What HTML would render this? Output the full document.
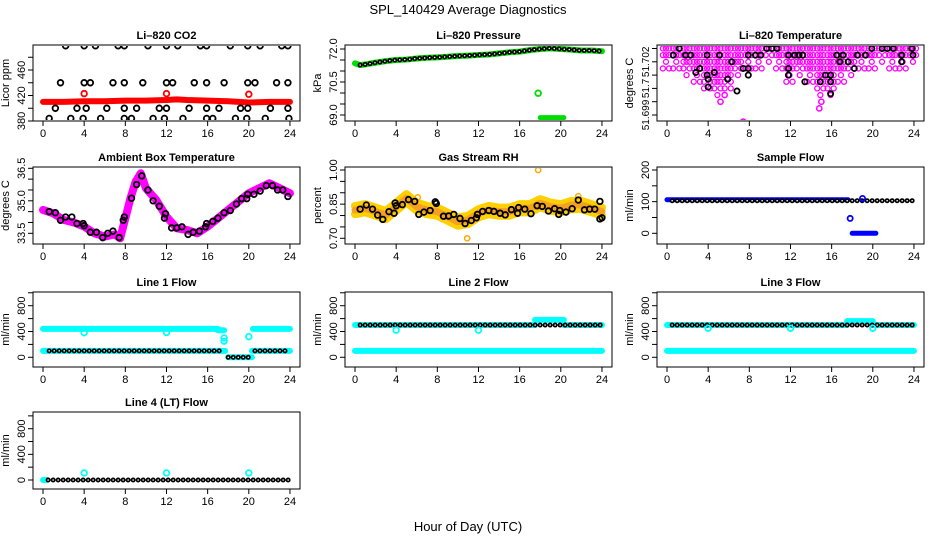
<!DOCTYPE html>
<html><head><meta charset="utf-8"><style>
html,body{margin:0;padding:0;background:#fff}
svg text{font-family:"Liberation Sans",Arial,sans-serif}
</style></head><body>
<svg id="c" width="936" height="540" viewBox="0 0 936 540" xmlns="http://www.w3.org/2000/svg">
<text x="468" y="14" font-size="13" text-anchor="middle">SPL_140429  Average Diagnostics</text>
<text x="468" y="531" font-size="13" text-anchor="middle">Hour of Day (UTC)</text>
</svg>
<script>
// ---------- data ----------
const xTicks=[0,4,8,12,16,20,24];
// CO2
const co2RedH=[0,2,4,6,8,10,12,13,14,16,18,20,22,24];
const co2RedV=[410,410,411,411,412,412,413,414,413,412,411,409,410,410];
const co2RedOutH=[4,12,20];
const co2RedOutV=[423,423,422];
const co2BlkH=[2.2,4.0,5.1,7.3,7.9,10.2,12.0,13.1,15.3,15.9,18.2,19.9,21.1,23.2,23.8,
 1.7,4.0,4.6,6.8,7.9,9.7,12.0,12.6,14.7,15.9,17.6,19.9,20.6,22.7,23.8,
 1.2,3.3,4.2,6.2,7.9,9.1,11.3,12.0,14.2,15.9,17.1,19.2,19.9,22.1,23.8,
 0.6,2.7,3.9,5.6,7.9,8.6,10.7,11.8,13.6,15.9,16.5,18.7,19.8,21.6,23.9];
const co2BlkV=[498,498,498,498,498,498,498,498,498,498,498,498,498,498,498,
 440,440,440,440,440,440,440,440,440,440,440,440,440,440,440,
 400,400,400,400,400,400,400,400,400,400,400,400,400,400,400,
 384,384,384,384,384,384,384,384,384,384,384,384,384,384,384];
// Pressure
const presH=[0,0.5,1,2,3,4,5,6,7,8,9,10,11,12,13,14,15,16,17,18,19,20,21,22,23,24];
const presV=[71.35,71.27,71.3,71.38,71.45,71.5,71.52,71.57,71.6,71.62,71.65,71.68,71.7,71.73,71.75,71.8,71.85,71.88,71.95,72.0,72.03,72.0,71.97,71.93,71.93,71.9];
const presOutH=[17.8,18.0,18.5,19.0,19.5,20.0,20.3];
const presOutV=[69.99,68.88,68.88,68.88,68.88,68.88,68.88];
// Li-820 temperature
const tempH=[0,1,2,3,4,5,6,7,8,9,10,11,12,13,14,15,16,17,18,19,20,21,22,23,24];
const tempLow=[51.70075,51.70075,51.7005,51.70025,51.7,51.69975,51.7,51.7005,51.70075,51.70075,51.701,51.70075,51.70025,51.7005,51.70025,51.69975,51.69975,51.70025,51.7005,51.70075,51.70075,51.701,51.70075,51.70075,51.701];
const tempMagOutH=[7.4,14.8,5.2,5.6,15.0];
const tempMagOutV=[51.69875,51.69925,51.6995,51.69975,51.6995];
const tempBlkH=[1.2,9.7,10.2,10.7,19.9,20.9,21.4,22.0,23.8,0.6,1.8,2.3,3.9,5.1,7.9,8.6,9.1,11.8,12.4,12.8,13.2,16.5,17.1,18.5,19.3,22.8,23.9,6.3,16.8,17.6,22.8,3.2,7.4,7.9,11.8,18.2,2.8,4.6,3.9,7.9,11.8,15.4,15.9,4.0,5.9,13.4,14.9,15.9,4.0,6.8,15.9];
const tempBlkV=[51.7015,51.7015,51.7015,51.7015,51.7015,51.7015,51.7015,51.7015,51.7015,51.70125,51.70125,51.70125,51.70125,51.70125,51.70125,51.70125,51.70125,51.70125,51.70125,51.70125,51.70125,51.70125,51.70125,51.70125,51.70125,51.70125,51.70125,51.701,51.701,51.701,51.701,51.70075,51.70075,51.70075,51.70075,51.70075,51.7006,51.7006,51.7005,51.7005,51.7005,51.7005,51.7005,51.70035,51.70035,51.70025,51.70025,51.70025,51.70005,51.6999,51.6998];
// Ambient box temperature
const ambH=[0,1,2,3,4,5,6,7,7.5,8,8.5,9,9.5,10,11,12,13,14,15,16,17,18,19,20,21,22,23,24];
const ambV=[34.58,34.42,34.12,34.0,33.81,33.5,33.35,33.45,33.27,34.19,35.12,35.88,36.27,35.58,35.04,34.27,33.73,33.65,33.5,33.81,34.19,34.58,34.96,35.35,35.58,35.81,35.58,35.35];
const ambBlkH=[0.6,1.2,1.7,2.2,2.8,3.3,3.9,4.0,4.6,5.2,5.8,6.3,6.8,7.4,7.8,7.9,8.6,9.1,9.6,10.2,10.7,11.3,11.8,11.9,12.5,13.0,13.5,14.1,14.6,15.2,15.8,15.9,16.5,17.0,17.6,18.2,18.8,19.3,19.8,19.9,20.5,21.1,21.7,22.3,22.8,23.3,23.8];
const ambBlkV=[34.5,34.45,34.1,34.25,34.25,33.95,33.95,33.85,33.55,33.55,33.3,33.5,33.6,33.3,34.1,34.25,35.12,35.75,36.15,35.5,35.0,34.75,34.2,34.4,33.75,33.75,33.8,33.45,33.55,33.6,33.8,33.95,34.05,34.2,34.45,34.55,34.85,35.1,35.1,35.3,35.3,35.45,35.7,35.7,35.5,35.5,35.2];
// Gas stream RH
const rhH=[0,1,2,3,4,5,6,7,8,9,10,11,12,13,14,15,16,17,18,19,20,21,22,23,24];
const rhV=[0.824,0.832,0.817,0.802,0.839,0.876,0.839,0.824,0.817,0.795,0.773,0.781,0.81,0.824,0.817,0.817,0.832,0.832,0.854,0.839,0.832,0.846,0.846,0.832,0.817];
const rhOutH=[17.8,10.9,21.7,6.1];
const rhOutV=[1.0,0.70,0.885,0.88];
const rhBlkH=[0.5,1.1,1.7,2.2,2.7,3.3,3.8,3.9,4.0,4.6,5.2,5.8,6.2,6.7,7.3,7.8,7.9,8.6,9.1,9.6,10.2,10.7,11.3,11.8,11.9,12.4,13.0,13.5,14.1,14.6,15.2,15.8,15.9,16.5,17.1,17.7,18.2,18.8,19.4,19.8,19.9,20.5,21.1,21.7,22.3,22.8,23.3,23.8,23.8,24.0];
const rhBlkV=[0.828,0.846,0.828,0.802,0.783,0.817,0.81,0.855,0.843,0.848,0.87,0.862,0.805,0.815,0.822,0.86,0.853,0.797,0.798,0.805,0.787,0.765,0.778,0.79,0.805,0.818,0.822,0.818,0.81,0.803,0.826,0.81,0.835,0.828,0.808,0.843,0.84,0.82,0.83,0.805,0.822,0.815,0.83,0.868,0.825,0.828,0.828,0.785,0.862,0.79];
// Sample flow
const sfBlueSeg=[[0,17.6,106],[18,20.3,0]];
const sfBlkSeg=[[0.5,24,103]];
const sfOutH=[17.8,19.0];
const sfOutV=[47,110];
// Line flows: segments [startHour,endHour,value]
const l1CyanSeg=[[0,17.0,440],[17.0,17.6,420],[18,20.3,0],[20.4,24,440],[0,17.7,100],[20.3,24,100]];
const l1BlkSeg=[[0.6,17.5,100],[18.0,20.0,0],[20.6,24,100]];
const l1OutH=[4,12,20,17.6,17.6];
const l1OutV=[380,385,320,250,300];
const l2CyanSeg=[[0,17.5,500],[17.5,20.3,580],[20.3,24,500],[0,24,100]];
const l2BlkSeg=[[0.5,24,500]];
const l2OutH=[4,12];
const l2OutV=[420,420];
const l3CyanSeg=[[0,17.5,500],[17.5,20,560],[20,24,500],[0,24,100]];
const l3BlkSeg=[[0.5,24,500]];
const l3OutH=[4,12,20];
const l3OutV=[450,450,450];
const l4CyanSeg=[[0,0.4,0]];
const l4BlkSeg=[[0.5,24,0]];
const l4OutH=[4,12,20];
const l4OutV=[110,110,110];

// ---------- helpers ----------
const svg=document.getElementById('c');
const NS='http://www.w3.org/2000/svg';
function mk(tag,attrs,parent){const e=document.createElementNS(NS,tag);for(const k in attrs)e.setAttribute(k,attrs[k]);(parent||svg).appendChild(e);return e;}
const COLS=[33,345,657], ROWT=[45,167,292,412], ROWB=[121,244,367,489], BW=267;

function panel(name,title,ylab,col,row,cal,ticks,labVals,labTxt,fs){
  const L=COLS[col],T=ROWT[row],B=ROWB[row];
  const g=mk('g',{});
  
  
  const x=h=>L+10+h*10.29;
  const k=(cal[3]-cal[1])/(cal[2]-cal[0]);
  const y=v=>cal[1]+(v-cal[0])*k;
  const box=mk('rect',{x:L,y:T,width:BW,height:B-T,fill:'none',stroke:'#000','stroke-width':1},g);
  
  
  const t=mk('text',{x:L+BW/2,y:T-6,'font-size':11,'font-weight':'bold','text-anchor':'middle'},g);
  t.textContent=title;
  
  
  const yl=mk('text',{transform:`translate(${L-24},${(T+B)/2}) rotate(-90)`,'font-size':11,'text-anchor':'middle'},g);
  yl.textContent=ylab;
  
  
  xTicks.forEach(h=>{
    mk('line',{x1:x(h),x2:x(h),y1:B,y2:B+5,stroke:'#000'},g);
    const tx=mk('text',{x:x(h),y:B+16,'font-size':11,'text-anchor':'middle'},g);
    tx.textContent=h;
    
    
  });
  ticks.forEach(v=>mk('line',{x1:L-5,x2:L,y1:y(v),y2:y(v),stroke:'#000'},g));
  labVals.forEach((v,i)=>{
    const tl=mk('text',{transform:`translate(${L-8},${y(v)}) rotate(-90)`,'font-size':fs||11,'text-anchor':'middle'},g);
    tl.textContent=labTxt[i];
    
    
  });
  const clipId='clip'+name;
  const cp=mk('clipPath',{id:clipId},g);mk('rect',{x:L+1,y:T+1,width:BW-2,height:B-T-2},cp);
  const plot=mk('g',{'clip-path':`url(#${clipId})`},g);
  
  
  return {x,y,g:plot};
}
function circ(p,h,v,color,r,sw,nm){
  const c=mk('circle',{cx:p.x(h),cy:p.y(v),r:r||2.6,fill:'none',stroke:color,'stroke-width':sw||1.6},p.g);
  
  
  return c;
}
function band(p,H,V,color,w,nm){
  const pts=H.map((h,i)=>p.x(h)+','+p.y(V[i])).join(' ');
  const l=mk('polyline',{points:pts,fill:'none',stroke:color,'stroke-width':w,'stroke-linejoin':'round','stroke-linecap':'round'},p.g);
  
  
  return l;
}
function dots(p,H,V,nm){
  const pts=H.map((h,i)=>p.x(h)+','+p.y(V[i])).join(' ');
  const l=mk('polyline',{points:pts,fill:'none',stroke:'#000','stroke-width':5,'stroke-dasharray':'0 5','stroke-linecap':'round'},p.g);
  
  
  const l2=mk('polyline',{points:pts,fill:'none',stroke:'#fff','stroke-width':1.6,'stroke-dasharray':'0 5','stroke-linecap':'round'},p.g);
  
  
}
function segs(p,S,color,w,nm){S.forEach(s=>band(p,[s[0],s[1]],[s[2],s[2]],color,w,nm));}
function segDots(p,S,nm){S.forEach(s=>dots(p,[s[0],s[1]],[s[2],s[2]],nm));}

// ---------- CO2 ----------
let p=panel('co2','Li\u2013820 CO2','Licor ppm',0,0,[380,121,460,70],[380,400,420,440,460,480],[380,420,460],['380','420','460']);
band(p,co2RedH,co2RedV,'#ff0000',6,'co2-red-series');
co2RedOutH.forEach((h,i)=>circ(p,h,co2RedOutV[i],'#ff0000',2.8,1.8,'co2-red-outlier'));
co2BlkH.forEach((h,i)=>circ(p,h,co2BlkV[i],'#000',2.8,1.8,'co2-black-point'));

// ---------- Pressure ----------
p=panel('pressure','Li\u2013820 Pressure','kPa',1,0,[69,115,72,49],[69,69.5,70,70.5,71,71.5,72],[69,70.5,72],['69.0','70.5','72.0']);
band(p,presH,presV,'#00dd00',6,'pressure-green-series');
dots(p,presH.slice(1),presV.slice(1),'pressure-black-series');
circ(p,presOutH[0],presOutV[0],'#00dd00',2.8,1.8,'pressure-outlier');
band(p,presOutH.slice(1),presOutV.slice(1),'#00dd00',5,'pressure-low-series');

// ---------- Li-820 temperature ----------
p=panel('li820-temp','Li\u2013820 Temperature','degrees C',2,0,[51.699,115,51.7,88.4],[51.699,51.6995,51.7,51.7005,51.701,51.7015],[51.699,51.7,51.701],['51.699','51.7','51.702'],10);
tempH.forEach((h,i)=>{
  [-0.4,-0.1,0.2].forEach((dh,j)=>{
    for(let v=51.7015;v>=tempLow[i]-1e-7;v-=0.00025){
      if(((v*4000)|0)%2===j%2 && v<tempLow[i]+0.0003) continue;
      circ(p,h+dh,v,'#ff00ff',2.5,1.3,'temp-magenta-point');
    }
  });
});
tempMagOutH.forEach((h,i)=>circ(p,h,tempMagOutV[i],'#ff00ff',2.6,1.5,'temp-magenta-outlier'));
tempBlkH.forEach((h,i)=>circ(p,h,tempBlkV[i],'#000',2.6,1.8,'temp-black-point'));

// ---------- Ambient ----------
p=panel('ambient','Ambient Box Temperature','degrees C',0,1,[33.5,233.3,36.5,168.3],[33.5,34,34.5,35,35.5,36,36.5],[33.5,35,36.5],['33.5','35.0','36.5']);
band(p,ambH,ambV,'#ff00ff',8,'ambient-magenta-series');
ambBlkH.forEach((h,i)=>circ(p,h,ambBlkV[i],'#000',2.8,1.8,'ambient-black-point'));

// ---------- RH ----------
p=panel('rh','Gas Stream RH','percent',1,1,[0.70,238.3,1.00,170],[0.70,0.75,0.80,0.85,0.90,0.95,1.00],[0.70,0.85,1.00],['0.70','0.85','1.00']);
band(p,rhH,rhV.map(v=>v+0.018),'#ffd000',8,'rh-yellow-upper');
band(p,rhH,rhV.map(v=>v-0.018),'#ffd000',8,'rh-yellow-lower');
band(p,rhH,rhV,'#f4a020',7,'rh-orange-series');
rhOutH.forEach((h,i)=>circ(p,h,rhOutV[i],'#ffaa00',2.6,1.5,'rh-outlier'));
rhBlkH.forEach((h,i)=>circ(p,h,rhBlkV[i],'#000',2.8,1.8,'rh-black-point'));

// ---------- Sample flow ----------
p=panel('sample-flow','Sample Flow','ml/min',2,1,[0,233.3,200,170],[0,50,100,150,200],[0,100,200],['0','100','200']);
segs(p,sfBlueSeg,'#0000ff',5,'sample-flow-blue-series');
segDots(p,sfBlkSeg,'sample-flow-black-series');
sfOutH.forEach((h,i)=>circ(p,h,sfOutV[i],'#0000ff',2.6,1.8,'sample-flow-outlier'));

// ---------- Line flows ----------
const flowTicks=[0,200,400,600,800,1000];
function flowPanel(nm,title,col,row,cyan,blk,oh,ov){
  const z=row===2?[0,357.3,800,305.7]:[0,480,800,428.7];
  const q=panel(nm,title,'ml/min',col,row,z,flowTicks,[0,400,800],['0','400','800']);
  segs(q,cyan,'#00ffff',6,nm+'-cyan-series');
  segDots(q,blk,nm+'-black-series');
  oh.forEach((h,i)=>circ(q,h,ov[i],'#00ffff',2.8,1.8,nm+'-outlier'));
}
flowPanel('line1-flow','Line 1 Flow',0,2,l1CyanSeg,l1BlkSeg,l1OutH,l1OutV);
flowPanel('line2-flow','Line 2 Flow',1,2,l2CyanSeg,l2BlkSeg,l2OutH,l2OutV);
flowPanel('line3-flow','Line 3 Flow',2,2,l3CyanSeg,l3BlkSeg,l3OutH,l3OutV);
flowPanel('line4-flow','Line 4 (LT) Flow',0,3,l4CyanSeg,l4BlkSeg,l4OutH,l4OutV);
</script>
</body></html>
